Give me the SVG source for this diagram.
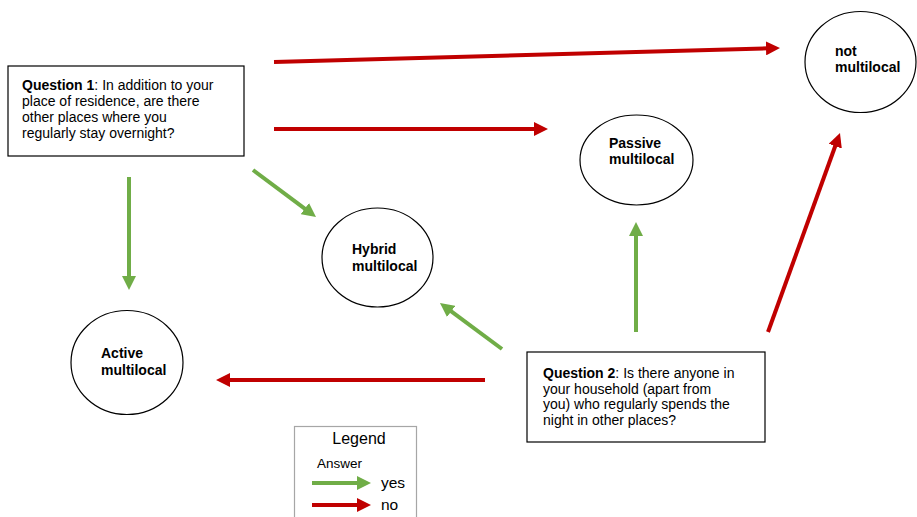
<svg xmlns="http://www.w3.org/2000/svg" width="917" height="517" viewBox="0 0 917 517">
<defs>
<style>
text{font-family:"Liberation Sans",Arial,sans-serif;fill:#000}
.box{fill:#fff;stroke:#000;stroke-width:1.2}
.node{fill:#fff;stroke:#000;stroke-width:1.2}
.lbl{font-size:14px;font-weight:bold}
.q{font-size:14px}
.yes{stroke:#70AD47;stroke-width:4;fill:none}
.no{stroke:#C00000;stroke-width:4;fill:none}
.y{marker-end:url(#ag)}
.n{marker-end:url(#ar)}
</style>
<marker id="ag" markerUnits="userSpaceOnUse" markerWidth="14" markerHeight="14" refX="2" refY="7" orient="auto"><path d="M0,0 L14,7 L0,14 z" fill="#70AD47"/></marker>
<marker id="ar" markerUnits="userSpaceOnUse" markerWidth="14" markerHeight="14" refX="2" refY="7" orient="auto"><path d="M0,0 L14,7 L0,14 z" fill="#C00000"/></marker>
</defs>
<rect width="917" height="517" fill="#fff"/>

<g id="connectors">
<line class="no n" x1="274" y1="62" x2="768" y2="48.3"/>
<line class="no n" x1="274" y1="129" x2="536" y2="129"/>
<line class="yes y" x1="129" y1="177" x2="129" y2="278"/>
<line class="yes y" x1="253" y1="170" x2="306.4" y2="209.8"/>
<line class="yes y" x1="636" y1="332" x2="636" y2="234"/>
<line class="yes y" x1="502" y1="349" x2="449.6" y2="310.2"/>
<line class="no n" x1="485" y1="380" x2="228" y2="380"/>
<line class="no n" x1="768" y1="332" x2="835.9" y2="144.3"/>
</g>

<g id="q1">
<rect class="box" x="8" y="66" width="236" height="90"/>
<text class="q" x="22" y="90"><tspan font-weight="bold">Question 1</tspan>: In addition to your</text>
<text class="q" x="22" y="106">place of residence, are there</text>
<text class="q" x="22" y="122">other places where you</text>
<text class="q" x="22" y="138">regularly stay overnight?</text>
</g>

<g id="q2">
<rect class="box" x="527" y="352" width="238" height="90"/>
<text class="q" x="543" y="378"><tspan font-weight="bold">Question 2</tspan>: Is there anyone in</text>
<text class="q" x="543" y="393.5">your household (apart from</text>
<text class="q" x="543" y="409">you) who regularly spends the</text>
<text class="q" x="543" y="424.5">night in other places?</text>
</g>

<g id="not-multilocal">
<ellipse class="node" cx="860.5" cy="62" rx="55.5" ry="50.5"/>
<text class="lbl" x="835" y="56">not</text>
<text class="lbl" x="835" y="72">multilocal</text>
</g>

<g id="passive">
<ellipse class="node" cx="636.5" cy="160" rx="56.5" ry="45"/>
<text class="lbl" x="609" y="148">Passive</text>
<text class="lbl" x="609" y="164">multilocal</text>
</g>

<g id="hybrid">
<ellipse class="node" cx="377.5" cy="257.5" rx="55.5" ry="49.5"/>
<text class="lbl" x="352" y="254">Hybrid</text>
<text class="lbl" x="352" y="271">multilocal</text>
</g>

<g id="active">
<ellipse class="node" cx="127" cy="362.5" rx="56" ry="52"/>
<text class="lbl" x="101" y="358">Active</text>
<text class="lbl" x="101" y="375">multilocal</text>
</g>

<g id="legend">
<rect x="294.5" y="426.5" width="122" height="100" fill="#fff" stroke="#a6a6a6" stroke-width="1.2"/>
<text x="359" y="444" font-size="16" text-anchor="middle">Legend</text>
<text x="317" y="468" font-size="13.5">Answer</text>
<line class="yes y" x1="312" y1="483" x2="359" y2="483"/>
<text x="381" y="488" font-size="15.5">yes</text>
<line class="no n" x1="312" y1="505" x2="359" y2="505"/>
<text x="381" y="510" font-size="15.5">no</text>
</g>
</svg>
